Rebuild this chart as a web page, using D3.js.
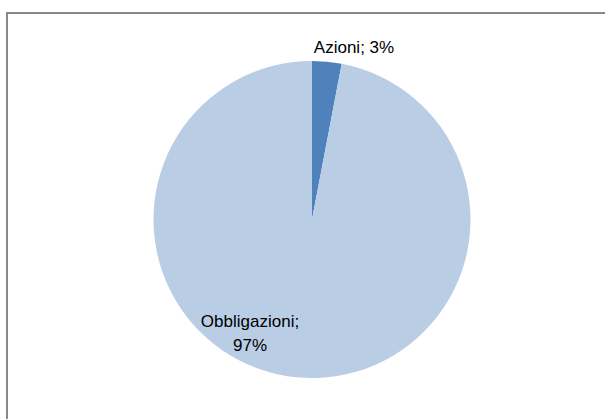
<!DOCTYPE html>
<html><head><meta charset="utf-8">
<script src="https://cdn.jsdelivr.net/npm/d3@7"></script>
<style>body{margin:0;background:#fff}svg{display:block}</style>
</head><body>
<script>
const categories = ["Azioni", "Obbligazioni"];
const values = [3, 97];
const colors = ["#4F81BD", "#B9CDE5"];

const W = 605, H = 419;
const svg = d3.select("body").append("svg").attr("width", W).attr("height", H);

svg.append("path").attr("d", "M7,420 V13 H606").attr("fill", "none")
  .attr("stroke", "#888").attr("stroke-width", 2);

const cx = 312, cy = 219.5, r = 158.5;
const data = categories.map((c, i) => ({name: c, value: values[i]}));
const pie = d3.pie().value(d => d.value).sort(null);
const arcs = pie(data);
const arc = d3.arc().innerRadius(0).outerRadius(r);
const g = svg.append("g").attr("transform", `translate(${cx},${cy})`);
g.selectAll("path").data(arcs).join("path")
  .attr("d", arc).attr("fill", (d, i) => colors[i]);

const font = "'Liberation Sans', Arial, sans-serif";
// label positions relative to center
const labelPos = [
  {x: 42, lines: [[-167.5]]},
  {x: -62, lines: [[107.5], [130.5]]}
];
svg.append("text").attr("x", cx + 42).attr("y", cy - 167)
  .attr("text-anchor", "middle").attr("font-family", font).attr("font-size", 17)
  .attr("fill", "#000").text(`${categories[0]}; ${values[0]}%`);
const t2 = svg.append("text").attr("text-anchor", "middle").attr("font-family", font)
  .attr("font-size", 17).attr("fill", "#000");
t2.append("tspan").attr("x", cx - 62).attr("y", cy + 107.5).text(`${categories[1]};`);
t2.append("tspan").attr("x", cx - 62).attr("y", cy + 131).text(`${values[1]}%`);
</script>
</body></html>
